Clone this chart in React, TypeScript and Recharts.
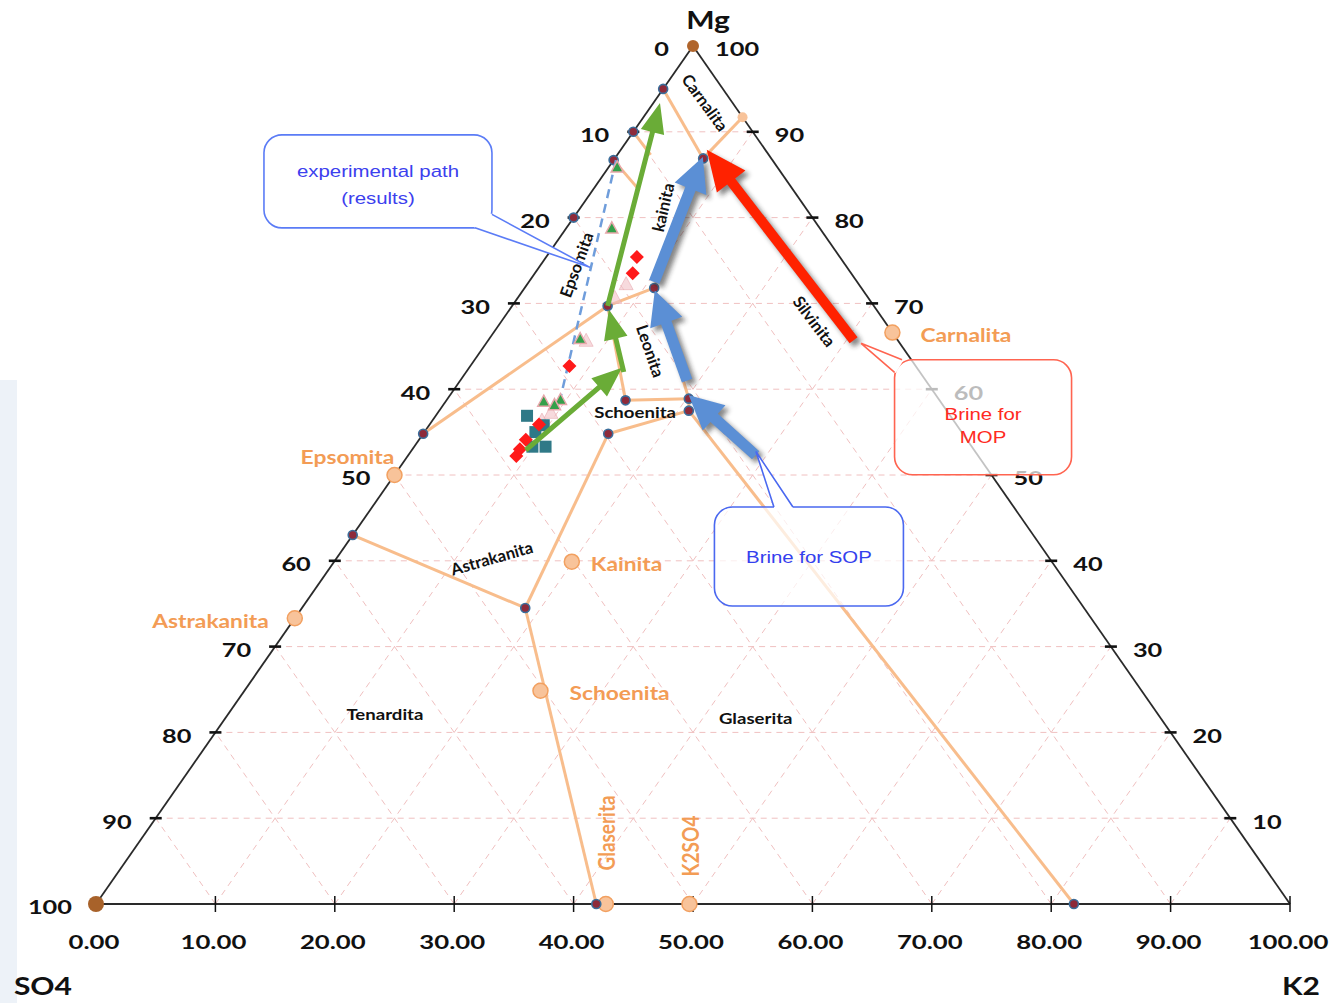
import React from 'react';
import { ScatterChart, Scatter, XAxis, YAxis, ReferenceLine, ReferenceDot } from 'recharts';

// every point is a ternary composition [K %, Mg %], SO4 is the rest
type TP = [number, number];

const gridLevels = [10, 20, 30, 40, 50, 60, 70, 80, 90];
const leftTicks = [0, 10, 20, 30, 40, 50, 60, 70, 80, 90, 100];
const rightTicks = [10, 20, 30, 40, 50, 60, 70, 80, 90, 100];
const bottomTicks = [0, 10, 20, 30, 40, 50, 60, 70, 80, 90, 100];

// invariant points of the diagram
const invariantPoints: TP[] = [
  [0, 95], [0, 90], [0, 86.7], [0, 80], [0, 54.8], [0, 43],
  [7.4, 86.9], [8.0, 69.7], [10.85, 71.8], [15.0, 58.7], [20.2, 58.9],
  [20.9, 57.5], [15.5, 54.8], [18.7, 34.5], [41.9, 0], [81.9, 0],
];

// phase boundaries (polylines)
const boundaries: TP[][] = [
  [[0, 54.8], [8.0, 69.7], [10.85, 71.8]],
  [[0, 95], [7.4, 86.9], [8.3, 91.7]],
  [[7.4, 86.9], [10.85, 71.8]],
  [[10.85, 71.8], [20.2, 58.9]],
  [[8.0, 69.7], [15.0, 58.7], [20.2, 58.9], [20.9, 57.5]],
  [[15.5, 54.8], [20.9, 57.5], [81.9, 0]],
  [[15.5, 54.8], [18.7, 34.5], [41.9, 0]],
  [[0, 43], [18.7, 34.5]],
  [[0, 90], [2.8, 87.3]],
  [[0, 86.7], [3.9, 83.2]],
];

// salts
const saltNames = ['Carnalita', 'Epsomita', 'Kainita', 'Astrakanita', 'Schoenita', 'Glaserita', 'K2SO4'];
const saltPoints: TP[] = [[33.4, 66.6], [0, 50], [19.9, 39.9], [0, 33.3], [24.8, 24.85], [42.7, 0], [49.7, 0]];
const smallSalt: TP[] = [[8.3, 91.7]];

// crystallisation fields
const fieldNames = ['Carnalita', 'kainita', 'Epsomita', 'Silvinita', 'Leonita', 'Schoenita', 'Astrakanita', 'Tenardita', 'Glaserita'];
const fieldPoints: TP[] = [
  [4.3, 93.4], [6.9, 81.2], [3.0, 74.5], [26.2, 67.9], [14.2, 64.45],
  [16.5, 57.3], [13.0, 40.3], [13.15, 22.1], [44.4, 21.7],
];

// experimental results
const redDiamonds: TP[] = [[7.6, 75.4], [8.2, 73.5], [8.3, 62.7], [9.15, 55.9], [8.95, 54.1], [9.1, 52.2], [9.0, 53.0]];
const greenTriangles: TP[] = [[0.7, 85.9], [3.8, 78.8], [7.6, 65.9], [8.2, 58.6], [9.5, 58.8], [9.3, 58.2]];
const tealSquares: TP[] = [[7.65, 56.9], [9.3, 55.0], [11.0, 53.3], [9.9, 53.3], [9.6, 55.8]];
const pinkMarks: TP[] = [[8.2, 65.7], [9.45, 57.3], [9.15, 56.4], [8.25, 72.3], [8.1, 70.7]];
const dashedPath: TP[] = [[0.2, 86.7], [9.7, 58.1]];

// process paths
const greenPath: TP[][] = [
  [[9.55, 52.9], [12.8, 62.5]],
  [[13.2, 62.0], [8.3, 69.3]],
  [[8.0, 69.7], [0.56, 93.35]],
];
const bluePath: TP[][] = [
  [[29.1, 52.3], [20.0, 59.3]],
  [[19.0, 61.0], [11.05, 71.5]],
  [[10.5, 72.5], [7.3, 87.05]],
];
const redPath: TP[][] = [[[30.6, 65.7], [7.2, 87.9]]];

const calloutTexts = [['experimental path', '(results)'], ['Brine for', 'MOP'], ['Brine for SOP']];
const calloutTips: TP[] = [[4.27, 74.2], [31.4, 65.35], [28.9, 52.74]];

// ---- styling ----
const FONT = 'Lato, "Open Sans", sans-serif';
const ARIAL = '"Liberation Sans", Arial, sans-serif';
const ORANGE = '#f39c55';
const PEACH = '#f8c39a';

const fieldAngles = [54, -77, -70, 53, 71, 0, -16, 0, 0];
const saltLabelStyle = [
  { dx: 28, dy: 2, anchor: 'start', rot: 0 },
  { dx: -47, dy: -19, anchor: 'middle', rot: 0 },
  { dx: 19, dy: 2, anchor: 'start', rot: 0 },
  { dx: -26, dy: 2, anchor: 'end', rot: 0 },
  { dx: 29, dy: 2, anchor: 'start', rot: 0 },
  { dx: 0, dy: -71, anchor: 'middle', rot: -90 },
  { dx: 0, dy: -58, anchor: 'middle', rot: -90 },
];
const calloutStyle = [
  { dx: -212, dy: -86, w: 228, h: 93, b1: [114, 33], b2: [97, 46.5], stroke: '#5b7cf6', color: '#3c40ee', lines: [-10, 17] },
  { dx: 122, dy: 74, w: 177, h: 115, b1: [-81, -57.5], b2: [-88.5, -45], stroke: '#ff6450', color: '#ff2a22', lines: [-3, 20] },
  { dx: 53, dy: 105, w: 189, h: 99, b1: [-35, -49.5], b2: [-16, -49.5], stroke: '#4a68f0', color: '#3440ee', lines: [1] },
];

const xy = ([k, mg]: TP) => ({ x: k + mg / 2, y: mg });

const STxt = ({ x, y, text, size, fill = '#111', weight = 'bold', anchor = 'middle', rot = 0, sx = 1.2, sy = 1, family = FONT }: any) => (
  <g transform={`translate(${x},${y}) rotate(${rot}) scale(${sx},${sy})`}>
    <text x={0} y={0} fontSize={size} fontWeight={weight} fill={fill} textAnchor={anchor} dominantBaseline="central" fontFamily={family}>
      {text}
    </text>
  </g>
);

function arrowShape(color: string, shaft: number, headW: number, headL: number, shadow: boolean) {
  return (p: any) => {
    const { x1, y1, x2, y2 } = p;
    const dx = x2 - x1;
    const dy = y2 - y1;
    const len = Math.hypot(dx, dy) || 1;
    const ux = dx / len, uy = dy / len, nx = -uy, ny = ux;
    const bx = x2 - ux * headL, by = y2 - uy * headL;
    const pts = [
      [x1 + (nx * shaft) / 2, y1 + (ny * shaft) / 2],
      [bx + (nx * shaft) / 2, by + (ny * shaft) / 2],
      [bx + (nx * headW) / 2, by + (ny * headW) / 2],
      [x2, y2],
      [bx - (nx * headW) / 2, by - (ny * headW) / 2],
      [bx - (nx * shaft) / 2, by - (ny * shaft) / 2],
      [x1 - (nx * shaft) / 2, y1 - (ny * shaft) / 2],
    ].map((q) => q.join(',')).join(' ');
    return (
      <g>
        {shadow && (
          <>
            <defs>
              <filter id="arrowBlur" x="-20%" y="-20%" width="140%" height="140%">
                <feGaussianBlur stdDeviation="2.5" />
              </filter>
            </defs>
            <polygon points={pts} fill="#222" opacity={0.55} transform="translate(4,4)" filter="url(#arrowBlur)" />
          </>
        )}
        <polygon points={pts} fill={color} />
      </g>
    );
  };
}

function calloutShape(i: number) {
  return (p: any) => {
    const { cx, cy } = p;
    const s = calloutStyle[i];
    const bx = cx + s.dx, by = cy + s.dy;
    const b1 = [bx + s.b1[0], by + s.b1[1]];
    const b2 = [bx + s.b2[0], by + s.b2[1]];
    return (
      <g>
        <rect x={bx - s.w / 2} y={by - s.h / 2} width={s.w} height={s.h} rx={18} fill="#fff" fillOpacity={0.72} stroke={s.stroke} strokeWidth={1.6} />
        <polygon points={`${cx},${cy} ${b1.join(',')} ${b2.join(',')}`} fill="#fff" />
        <line x1={b1[0]} y1={b1[1]} x2={b2[0]} y2={b2[1]} stroke="#fff" strokeWidth={3} />
        <polyline points={`${b1.join(',')} ${cx},${cy} ${b2.join(',')}`} fill="none" stroke={s.stroke} strokeWidth={1.6} />
        {calloutTexts[i].map((t, j) => (
          <STxt key={j} x={bx} y={by + s.lines[j]} text={t} size={17} weight="normal" fill={s.color} family={ARIAL} />
        ))}
      </g>
    );
  };
}

const diamond = (p: any) => (
  <polygon points={`${p.cx},${p.cy - 7} ${p.cx + 7},${p.cy} ${p.cx},${p.cy + 7} ${p.cx - 7},${p.cy}`} fill="#ff1a1a" />
);
const triangle = (p: any) => (
  <polygon points={`${p.cx},${p.cy - 6} ${p.cx + 6},${p.cy + 5} ${p.cx - 6},${p.cy + 5}`} fill="#34a04a" stroke="#e7a7ab" strokeWidth={1.5} />
);
const square = (p: any) => <rect x={p.cx - 6} y={p.cy - 6} width={12} height={12} fill="#2f7987" />;
const pink = (p: any) => (
  <polygon points={`${p.cx},${p.cy - 7} ${p.cx + 7},${p.cy + 6} ${p.cx - 7},${p.cy + 6}`} fill="#f2c2c6" fillOpacity={0.6} stroke="#e8aab0" strokeOpacity={0.6} />
);
const invDot = (p: any) => <circle cx={p.cx} cy={p.cy} r={4.5} fill="#8e2a3a" stroke="#3b6d9a" strokeWidth={1.6} />;
const saltDot = (p: any) => <circle cx={p.cx} cy={p.cy} r={7.5} fill={PEACH} stroke="#f2a060" strokeWidth={1.5} />;
const smallDot = (p: any) => <circle cx={p.cx} cy={p.cy} r={5} fill={PEACH} />;

const gridLines: TP[][] = [
  ...gridLevels.map((l) => [[0, l], [100 - l, l]] as TP[]),
  ...gridLevels.map((l) => [[l, 0], [l, 100 - l]] as TP[]),
  ...gridLevels.map((l) => [[l, 0], [0, l]] as TP[]),
];
const edges: TP[][] = [[[0, 0], [100, 0]], [[100, 0], [0, 100]], [[0, 100], [0, 0]]];

const tickDash = (horizontal: boolean, color = '#111') => (p: any) =>
  horizontal ? (
    <line x1={p.cx - 6} y1={p.cy} x2={p.cx + 6} y2={p.cy} stroke={color} strokeWidth={2.6} />
  ) : (
    <line x1={p.cx} y1={p.cy - 8} x2={p.cx} y2={p.cy + 8} stroke={color} strokeWidth={1.5} />
  );

export default function App() {
  const vis = 'visible' as const;
  return (
    <div style={{ position: 'absolute', left: 0, top: 0, width: 1337, height: 1003, background: '#fff', overflow: 'hidden' }}>
      <div style={{ position: 'absolute', left: 0, top: 380, width: 17, height: 623, background: '#edf2f8' }} />
      <div style={{ position: 'absolute', left: 0, top: 0 }}>
        <ScatterChart width={1337} height={1003} margin={{ top: 46, right: 47, bottom: 99, left: 96 }}>
          <XAxis type="number" dataKey="x" domain={[0, 100]} hide />
          <YAxis type="number" dataKey="y" domain={[0, 100]} hide />

          {gridLines.map((s, i) => (
            <ReferenceLine key={'g' + i} segment={s.map(xy)} stroke="#f0c0c0" strokeDasharray="6 5" strokeWidth={1} ifOverflow={vis} zIndex={1} />
          ))}
          {edges.map((s, i) => (
            <ReferenceLine key={'e' + i} segment={s.map(xy)} stroke="#2a2a2a" strokeWidth={1.8} ifOverflow={vis} zIndex={2} />
          ))}
          {leftTicks.filter((v) => v > 0 && v < 100).map((v) => (
            <ReferenceDot key={'lt' + v} {...xy([0, 100 - v])} ifOverflow={vis} shape={tickDash(true)} zIndex={2} />
          ))}
          {rightTicks.filter((v) => v < 100).map((v) => (
            <ReferenceDot key={'rt' + v} {...xy([100 - v, v])} ifOverflow={vis} shape={tickDash(true)} zIndex={2} />
          ))}
          {bottomTicks.filter((v) => v > 0).map((v) => (
            <ReferenceDot key={'bt' + v} {...xy([v, 0])} ifOverflow={vis} shape={tickDash(false)} zIndex={2} />
          ))}

          {boundaries.flatMap((pl, i) =>
            pl.slice(1).map((q, j) => (
              <ReferenceLine key={'b' + i + '-' + j} segment={[xy(pl[j]), xy(q)]} stroke="#f8bd8c" strokeWidth={3} ifOverflow={vis} zIndex={3} />
            )),
          )}

          <Scatter data={saltPoints.map(xy)} shape={saltDot} isAnimationActive={false} zIndex={4} />
          <Scatter data={smallSalt.map(xy)} shape={smallDot} isAnimationActive={false} zIndex={4} />
          <Scatter data={[xy([0, 100])]} shape={(p: any) => <circle cx={p.cx} cy={p.cy} r={6} fill="#b0652c" />} isAnimationActive={false} zIndex={4} />
          <Scatter data={[xy([0, 0])]} shape={(p: any) => <circle cx={p.cx} cy={p.cy} r={8} fill="#a8622a" />} isAnimationActive={false} zIndex={4} />
          <Scatter data={invariantPoints.map(xy)} shape={invDot} isAnimationActive={false} zIndex={4} />

          <ReferenceLine segment={dashedPath.map(xy)} stroke="#6f9ddb" strokeWidth={2.5} strokeDasharray="9 6" ifOverflow={vis} zIndex={5} />
          <Scatter data={pinkMarks.map(xy)} shape={pink} isAnimationActive={false} zIndex={5} />
          <Scatter data={tealSquares.map(xy)} shape={square} isAnimationActive={false} zIndex={5} />
          <Scatter data={redDiamonds.map(xy)} shape={diamond} isAnimationActive={false} zIndex={5} />
          <Scatter data={greenTriangles.map(xy)} shape={triangle} isAnimationActive={false} zIndex={5} />

          {greenPath.map((s, i) => (
            <ReferenceLine key={'ga' + i} segment={s.map(xy)} ifOverflow={vis} shape={arrowShape('#6aac37', 5, 24, 30, false)} zIndex={6} />
          ))}
          {bluePath.map((s, i) => (
            <ReferenceLine key={'ba' + i} segment={s.map(xy)} ifOverflow={vis} shape={arrowShape('#5b8fd5', 11, 34, 34, true)} zIndex={6} />
          ))}
          {redPath.map((s, i) => (
            <ReferenceLine key={'ra' + i} segment={s.map(xy)} ifOverflow={vis} shape={arrowShape('#ff2200', 10, 36, 40, true)} zIndex={6} />
          ))}

          {fieldPoints.map((pt, i) => (
            <ReferenceDot
              key={'f' + i}
              {...xy(pt)}
              ifOverflow={vis}
              zIndex={7}
              shape={(p: any) => (
                <STxt x={p.cx} y={p.cy} text={fieldNames[i]} size={fieldAngles[i] === 0 ? 15.5 : 16.5} rot={fieldAngles[i]} sx={fieldAngles[i] === 0 ? 1.2 : 1} />
              )}
            />
          ))}
          {saltPoints.map((pt, i) => (
            <ReferenceDot
              key={'sl' + i}
              {...xy(pt)}
              ifOverflow={vis}
              zIndex={7}
              shape={(p: any) => {
                const st = saltLabelStyle[i];
                return (
                  <STxt x={p.cx + st.dx} y={p.cy + st.dy} text={saltNames[i]} size={19} fill={ORANGE} anchor={st.anchor} rot={st.rot}
                    sx={st.rot === 0 ? 1.2 : 1} sy={st.rot === 0 ? 1 : 1.2} />
                );
              }}
            />
          ))}

          {leftTicks.map((v) => (
            <ReferenceDot key={'ll' + v} {...xy([0, 100 - v])} ifOverflow={vis} zIndex={7}
              shape={(p: any) => <STxt x={p.cx - 24} y={p.cy + 3} text={String(v)} size={19.5} sx={1.3} anchor="end" />} />
          ))}
          {rightTicks.map((v) => (
            <ReferenceDot key={'rl' + v} {...xy([100 - v, v])} ifOverflow={vis} zIndex={7}
              shape={(p: any) => <STxt x={p.cx + 22} y={p.cy + 3} text={String(v)} size={19.5} sx={1.3} anchor="start" />} />
          ))}
          {bottomTicks.map((v) => (
            <ReferenceDot key={'bl' + v} {...xy([v, 0])} ifOverflow={vis} zIndex={7}
              shape={(p: any) => <STxt x={p.cx - 2} y={p.cy + 37} text={v.toFixed(2)} size={19.5} sx={1.32} />} />
          ))}
          <ReferenceDot {...xy([0, 100])} ifOverflow={vis} zIndex={7} shape={(p: any) => <STxt x={p.cx + 15} y={p.cy - 26} text="Mg" size={24} sx={1.25} />} />
          <ReferenceDot {...xy([0, 0])} ifOverflow={vis} zIndex={7} shape={(p: any) => <STxt x={p.cx - 24} y={p.cy + 82} text="SO4" size={24} sx={1.25} anchor="end" />} />
          <ReferenceDot {...xy([100, 0])} ifOverflow={vis} zIndex={7} shape={(p: any) => <STxt x={p.cx - 8} y={p.cy + 82} text="K2" size={24} sx={1.25} anchor="start" />} />

          {calloutTips.map((pt, i) => (
            <ReferenceDot key={'c' + i} {...xy(pt)} ifOverflow={vis} zIndex={8} shape={calloutShape(i)} />
          ))}
        </ScatterChart>
      </div>
    </div>
  );
}
